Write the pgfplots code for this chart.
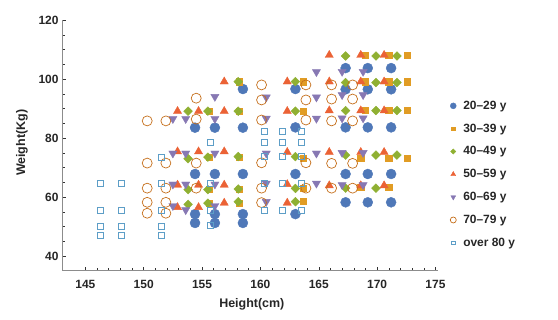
\documentclass[border=0pt]{standalone}
\usepackage{pgfplots}
\pgfplotsset{compat=1.18}
\usepackage{fontspec}
\setmainfont{Liberation Sans}
\definecolor{cA}{HTML}{4F78B8}
\definecolor{cB}{HTML}{E19C24}
\definecolor{cC}{HTML}{8FB032}
\definecolor{cD}{HTML}{EB6235}
\definecolor{cE}{HTML}{8778B3}
\definecolor{cF}{HTML}{C56E1A}
\definecolor{cG}{HTML}{5D9EC7}
\begin{document}
\begin{tikzpicture}
\path[use as bounding box] (0,0) rectangle (558bp,320bp);
\begin{axis}[
  at={(62bp,49.25bp)}, anchor=south west, scale only axis,
  width=375.8bp, height=250.75bp,
  xmin=143, xmax=175.2, ymin=35, ymax=120,
  axis x line=bottom, axis y line=left,
  axis line style={-, black!45, line width=0.6pt},
  xtick={145,150,...,175}, ytick={40,60,...,120},
  minor x tick num=4, minor y tick num=3,
  tick align=inside, tick style={black!80, line width=0.5pt},
  major tick length=4bp, minor tick length=2.5bp,
  /pgf/number format/assume math mode=true,
  ticklabel style={font=\bfseries\fontsize{12}{14}\selectfont, text=black!85},
  xticklabel style={yshift=-6bp},
  xlabel={Height(cm)}, ylabel={Weight(Kg)},
  label style={font=\bfseries\fontsize{12.5}{14}\selectfont, text=black!85},
  xlabel style={at={([yshift=-34bp]axis description cs:0.505,0)}, anchor=center},
  ylabel style={at={([xshift=-40bp]axis description cs:0,0.51)}, anchor=center},
  clip=false,
  legend style={at={(1.03,0.69)}, anchor=north west, draw=none, fill=none,
    inner sep=1bp, row sep=9bp, column sep=5bp,
    font=\bfseries\fontsize{12}{14}\selectfont, text=black!85},
  legend cell align=left,
  legend image post style={scale=0.6},
]
% 20-29 y
\addplot[only marks, mark=*, mark size=5bp, color=cA] coordinates {
(154.4,83.5)(156.1,83.5)(158.5,83.5)(158.5,96.6)
(154.4,67.8)(156.1,67.8)(158.5,67.8)
(154.4,54.2)(156.1,54.2)(158.5,54.2)
(154.4,51.2)(156.1,51.2)(158.5,51.2)
(163.0,96.6)(163.0,83.6)(163.0,67.8)(163.0,54.2)
(167.3,103.7)(169.2,103.7)(171.2,103.7)
(167.3,96.5)(169.2,96.5)(171.2,96.5)
(167.3,83.6)(169.2,83.6)(171.2,83.6)
(167.3,67.8)(169.2,67.8)(171.2,67.8)
(167.3,58.2)(169.2,58.2)(171.2,58.2)
};
\addlegendentry{20–29 y}
% 30-39 y
\addplot[only marks, mark=square*, mark size=3.1bp, color=cB] coordinates {
(158.2,99.1)(158.2,89.1)(155.6,89.1)
(155.6,73.5)(158.2,73.5)(155.6,62.7)(158.2,62.7)(155.6,57.9)(158.2,57.9)
(163.7,99.1)(163.7,89.1)(163.7,73.1)(163.7,62.9)(163.7,58.5)
(169.0,108.1)(171.0,108.1)(172.6,108.1)
(169.0,99.1)(171.0,99.1)(172.6,99.1)
(169.0,89.3)(171.0,89.3)(172.6,89.3)
(168.6,73.1)(171.0,73.1)(172.6,73.1)
(168.6,63.3)(171.0,63.3)
};
\addlegendentry{30–39 y}
% 40-49 y
\addplot[only marks, mark=square*, mark size=3.1bp, mark options={rotate=45}, color=cC] coordinates {
(153.8,89.1)(155.5,89.1)(158.1,89.1)(158.1,99.1)
(153.8,73.0)(155.5,73.5)(158.1,73.7)
(153.8,62.5)(155.5,62.5)(158.1,62.7)
(153.8,57.5)(155.5,57.9)(158.1,58.4)
(163.0,99.1)(163.0,89.1)(163.0,73.7)(163.0,62.9)(163.0,58.4)
(167.3,107.8)(169.9,107.8)(171.7,107.8)
(167.3,98.8)(169.9,98.8)(171.7,98.8)
(167.3,89.3)(169.9,89.3)(171.7,89.3)
(167.3,74.2)(169.9,74.2)(171.7,74.2)
(167.3,63.0)(169.9,63.0)
};
\addlegendentry{40–49 y}
% 50-59 y
\addplot[only marks, mark=triangle*, mark size=4.7bp, color=cD] coordinates {
(156.9,99.1)
(152.9,89.1)(154.7,89.1)(156.9,89.1)
(152.9,75.4)(154.7,75.4)(156.9,75.4)
(152.9,64.1)(154.7,64.1)(156.9,64.1)
(152.9,56.5)(154.7,56.5)(156.9,58.0)
(162.3,99.1)(162.3,89.1)(162.3,75.2)(162.3,64.3)(162.3,58.0)
(165.9,108.1)(168.6,108.1)(170.6,108.1)
(165.9,99.1)(168.6,99.1)(170.6,99.1)
(165.9,89.3)(168.6,89.3)(170.6,89.3)
(165.9,75.2)(168.6,75.2)(170.6,75.2)
(165.9,63.9)(168.6,63.9)(170.6,63.9)
};
\addlegendentry{50–59 y}
% 60-69 y
\addplot[only marks, mark=triangle*, mark size=4.7bp, mark options={rotate=180}, color=cE] coordinates {
(156.1,94.0)
(152.5,86.5)(153.6,86.5)(156.1,86.5)
(152.5,74.8)(153.6,74.8)(156.1,74.8)
(152.5,64.3)(153.6,64.3)(156.1,64.3)
(152.5,57.0)(153.6,55.6)(156.1,57.0)
(164.8,102.4)
(160.5,93.8)(164.8,93.8)
(160.5,86.6)(164.8,86.6)
(160.5,74.8)(164.8,74.8)
(160.5,64.6)(164.8,64.6)
(160.5,58.4)
(167.0,102.5)(168.8,102.5)
(167.0,94.6)(168.8,94.6)
(167.0,86.7)(168.8,86.7)
(167.0,75.0)(168.8,75.0)
(167.0,64.1)(168.8,64.1)
};
\addlegendentry{60–69 y}
% 70-79 y
\addplot[only marks, mark=o, mark size=5bp, line width=0.7pt, color=cF] coordinates {
(150.3,85.8)(151.9,85.8)
(150.3,71.5)(151.9,71.5)
(150.3,63.0)(151.9,63.0)
(150.3,58.2)(151.9,58.2)
(150.3,54.5)(151.9,54.5)
(154.5,93.5)(154.5,86.4)(154.5,71.5)(154.5,63.0)
(160.1,98.0)(160.1,92.9)(160.1,86.1)(160.1,71.6)(160.1,63.0)(160.1,58.1)
(163.9,98.0)(163.9,92.9)(163.9,86.1)(163.9,71.6)(163.9,63.0)
(166.1,98.0)(167.9,98.0)
(166.1,93.2)(167.9,93.2)
(166.1,85.8)(167.9,85.8)
(166.1,71.4)(167.9,71.4)
(166.1,63.0)(167.9,63.0)
};
\addlegendentry{70–79 y}
% over 80 y
\addplot[only marks, mark=square, mark size=3.0bp, line width=0.6pt, color=cG] coordinates {
(146.3,64.5)(148.1,64.5)(151.5,64.5)
(146.3,55.6)(148.1,55.6)(151.5,55.6)
(146.3,50.2)(148.1,50.2)(151.5,50.2)
(146.3,47.1)(148.1,47.1)(151.5,47.1)
(151.5,73.5)
(155.7,78.4)(155.7,64.6)(155.7,55.6)(155.7,50.5)
(160.3,82.4)(161.9,82.4)(163.5,82.4)
(160.3,78.6)(161.9,78.6)(163.5,78.6)
(160.3,73.7)(161.9,73.7)(163.5,73.7)
(160.3,64.5)(161.9,64.5)(163.5,64.5)
(160.3,55.6)(161.9,55.6)(163.5,55.6)
};
\addlegendentry{over 80 y}
\end{axis}
\end{tikzpicture}
\end{document}
